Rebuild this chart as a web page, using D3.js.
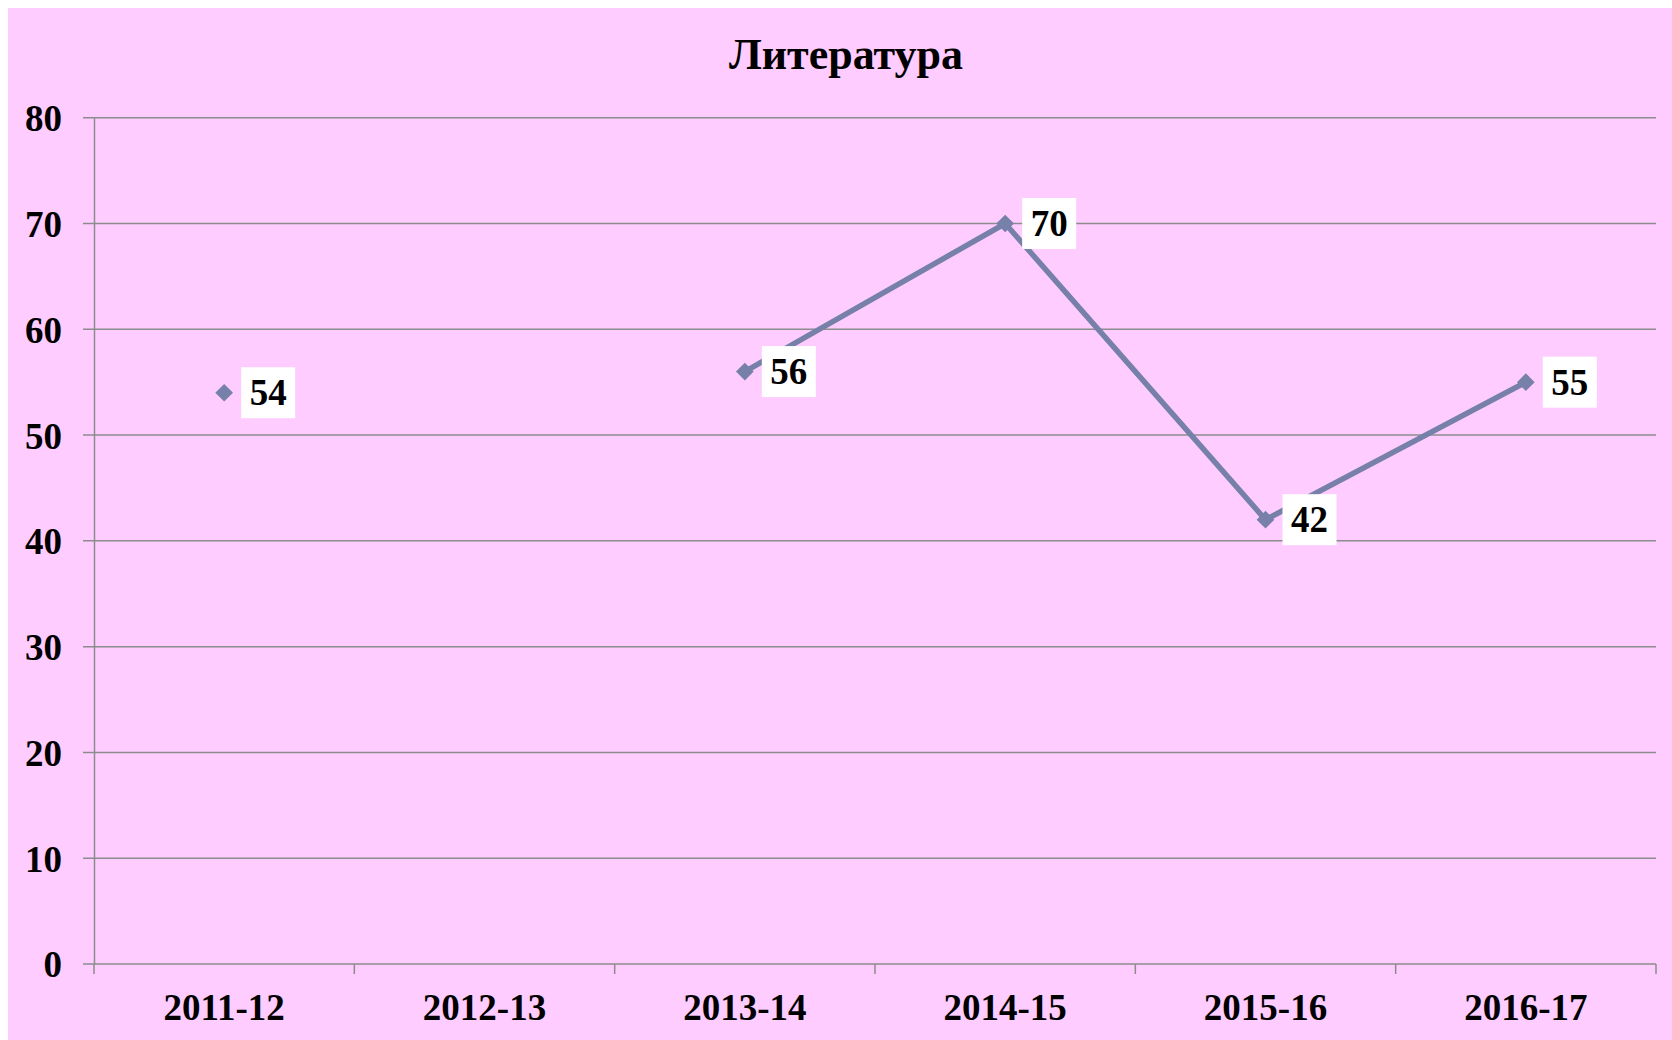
<!DOCTYPE html>
<html><head><meta charset="utf-8">
<script src="https://cdn.jsdelivr.net/npm/d3@7"></script>
<style>html,body{margin:0;padding:0;background:#fff;}svg{display:block;}</style>
</head><body>
<script>
const title = "Литература";
const categories = ["2011-12","2012-13","2013-14","2014-15","2015-16","2016-17"];
const values = [54, null, 56, 70, 42, 55];
const yTicks = [0,10,20,30,40,50,60,70,80];

const W = 1672, H = 1040;
const margin = {left: 94, right: 16, top: 117.7, bottom: 76};
const font = "'Liberation Serif','Times New Roman',serif";
const svg = d3.select("body").append("svg").attr("width", W).attr("height", H);
svg.append("rect").attr("x",8).attr("y",8).attr("width",W-8).attr("height",H-8).attr("fill","#ffccff");

const x = d3.scaleBand().domain(categories).range([margin.left, W - margin.right]);
const y = d3.scaleLinear().domain([0,80]).range([H - margin.bottom, margin.top]);

const gridColor = "#8c8c8c";
svg.append("g").selectAll("line").data(yTicks).join("line")
  .attr("x1", margin.left - 11).attr("x2", W - margin.right)
  .attr("y1", d => y(d)).attr("y2", d => y(d))
  .attr("stroke", gridColor).attr("stroke-width", 1.5);
const yAxis = svg.append("g").attr("transform", `translate(${margin.left},0)`)
  .call(d3.axisLeft(y).tickValues(yTicks).tickSize(0).tickPadding(32));
yAxis.select(".domain").attr("stroke", gridColor).attr("stroke-width", 1.5);
yAxis.selectAll("text").attr("font-family", font).attr("font-weight","bold").attr("font-size", 37).attr("fill","#000").attr("dy","0.35em");
const xAxis = svg.append("g").attr("transform", `translate(0,${y(0)})`)
  .call(d3.axisBottom(x).tickSize(0).tickPadding(0));
xAxis.select(".domain").remove();
xAxis.selectAll("text").attr("font-family", font).attr("font-weight","bold").attr("font-size", 37).attr("fill","#000").attr("y", 56).attr("dy", 0);
const bounds = [...categories.map(c => x(c)), x.range()[1]];
svg.append("g").selectAll("line").data(bounds).join("line")
  .attr("x1", d => d).attr("x2", d => d).attr("y1", y(0)).attr("y2", y(0) + 10)
  .attr("stroke", gridColor).attr("stroke-width", 1.5);

const cx = c => x(c) + x.bandwidth()/2;
const pts = categories.map((c,i) => ({c, v: values[i]}));
const color = "#7780a8";
const line = d3.line().defined(d => d.v != null).x(d => cx(d.c)).y(d => y(d.v));
svg.append("path").datum(pts).attr("d", line).attr("fill","none").attr("stroke", color).attr("stroke-width", 5.5);
const valid = pts.filter(d => d.v != null);
svg.append("g").selectAll("path").data(valid).join("path")
  .attr("d", d3.symbol().type(d3.symbolDiamond2).size(200))
  .attr("transform", d => `translate(${cx(d.c)},${y(d.v)})`)
  .attr("fill", color);
const lab = svg.append("g").selectAll("g").data(valid).join("g")
  .attr("transform", d => `translate(${cx(d.c) + 17},${y(d.v)})`);
lab.append("rect").attr("x",0).attr("y",-25.5).attr("width",54).attr("height",51).attr("fill","#fff");
lab.append("text").attr("x",27).attr("y",12.5).attr("text-anchor","middle")
  .attr("font-family", font).attr("font-weight","bold").attr("font-size",37).text(d => d.v);
svg.append("text").attr("x", 846).attr("y", 69).attr("text-anchor","middle")
  .attr("font-family", font).attr("font-weight","bold").attr("font-size",44).text(title);
</script>
</body></html>
